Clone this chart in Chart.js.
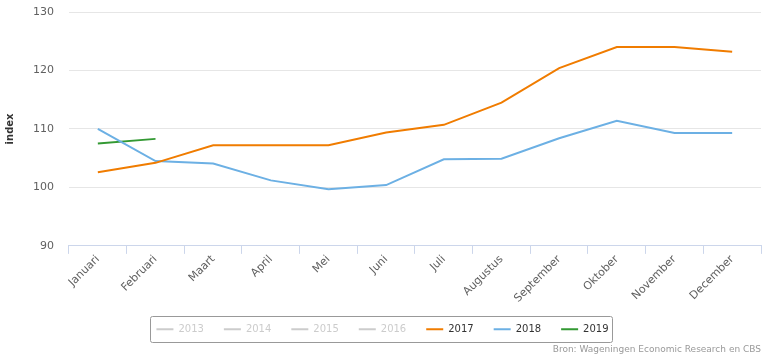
<!DOCTYPE html>
<html>
<head>
<meta charset="utf-8">
<script src="https://cdn.jsdelivr.net/npm/chart.js@4"></script>
<style>
  html, body { margin: 0; padding: 0; background: #fff; }
  #wrap { width: 766px; height: 358px; }
</style>
</head>
<body>
<div id="wrap"><canvas id="indexChart"></canvas></div>
<script>
// Months on the x axis
const months = ['Januari', 'Februari', 'Maart', 'April', 'Mei', 'Juni', 'Juli',
  'Augustus', 'September', 'Oktober', 'November', 'December'];

// Index values per year (2013-2016 are switched off in the original)
const values2017 = [102.6, 104.2, 107.2, 107.2, 107.2, 109.4, 110.7, 114.5, 120.4, 124.0, 124.0, 123.2];
const values2018 = [110.0, 104.5, 104.1, 101.2, 99.7, 100.4, 104.8, 104.9, 108.4, 111.4, 109.3, 109.3];
const values2019 = [107.5, 108.3];

const hiddenYears = ['2013', '2014', '2015', '2016'];
const yTicks = [90, 100, 110, 120, 130];

const font = "'DejaVu Sans', Verdana, sans-serif";

// draws the grey frame round the legend
const legendFrame = {
  id: 'legendFrame',
  afterDraw(chart) {
    const boxes = chart.legend.legendHitBoxes;
    if (!boxes || !boxes.length) return;
    const left = Math.min(...boxes.map(b => b.left)) - 6;
    const right = Math.max(...boxes.map(b => b.left + b.width)) + 4;
    const mid = boxes[0].top + boxes[0].height / 2;
    const ctx = chart.ctx;
    ctx.save();
    ctx.strokeStyle = '#999';
    ctx.lineWidth = 1;
    ctx.beginPath();
    ctx.roundRect(Math.round(left) + 0.5, Math.round(mid - 13) + 0.5, Math.round(right - left), 26, 2);
    ctx.stroke();
    ctx.restore();
  }
};

const datasets = hiddenYears.map(y => ({
  label: y, data: [], borderColor: '#ccc', backgroundColor: '#ccc', hidden: true
})).concat([
  { label: '2017', data: values2017, borderColor: '#f07c00', backgroundColor: '#f07c00' },
  { label: '2018', data: values2018, borderColor: '#6cb0e4', backgroundColor: '#6cb0e4' },
  { label: '2019', data: values2019, borderColor: '#339933', backgroundColor: '#339933' }
]);

new Chart(document.getElementById('indexChart'), {
  type: 'line',
  data: { labels: months, datasets: datasets },
  options: {
    responsive: true,
    maintainAspectRatio: false,
    animation: false,
    elements: {
      line: { borderWidth: 2, tension: 0 },
      point: { radius: 0, hoverRadius: 3 }
    },
    layout: { padding: { top: 12, right: 5, left: 4, bottom: 3 } },
    scales: {
      x: {
        offset: true,
        grid: { display: true, drawOnChartArea: false, drawTicks: true, tickLength: 8, color: '#ccd6eb', offset: true },
        border: { color: '#ccd6eb' },
        ticks: { color: '#606060', font: { family: font, size: 11 }, maxRotation: 45, minRotation: 45, padding: -1 }
      },
      y: {
        min: 90,
        max: 130,
        afterBuildTicks(axis) { axis.ticks = yTicks.map(v => ({ value: v })); },
        grid: { color: '#e6e6e6', drawTicks: true, tickLength: 13, tickColor: 'rgba(0,0,0,0)' },
        border: { display: false },
        ticks: { color: '#606060', font: { family: font, size: 11 }, padding: 2 },
        title: { display: true, text: 'index', color: '#333', font: { family: font, size: 10, weight: 'bold' }, padding: { top: 0, bottom: 15 } }
      }
    },
    plugins: {
      legend: {
        position: 'bottom',
        labels: {
          boxWidth: 17,
          boxHeight: 2,
          padding: 20,
          font: { family: font, size: 10 },
          generateLabels(chart) {
            return chart.data.datasets.map((ds, i) => {
              const off = !chart.isDatasetVisible(i);
              return {
                text: ds.label,
                datasetIndex: i,
                fillStyle: off ? '#ccc' : ds.borderColor,
                strokeStyle: off ? '#ccc' : ds.borderColor,
                lineWidth: 0,
                hidden: false,
                fontColor: off ? '#ccc' : '#333'
              };
            });
          }
        }
      },
      title: {
        display: true,
        position: 'bottom',
        align: 'end',
        text: 'Bron: Wageningen Economic Research en CBS',
        color: '#999',
        font: { family: font, size: 9, weight: 'normal' },
        padding: { top: 0, bottom: 0 }
      },
      tooltip: { mode: 'index', intersect: false }
    }
  },
  plugins: [legendFrame]
});
</script>
</body>
</html>
